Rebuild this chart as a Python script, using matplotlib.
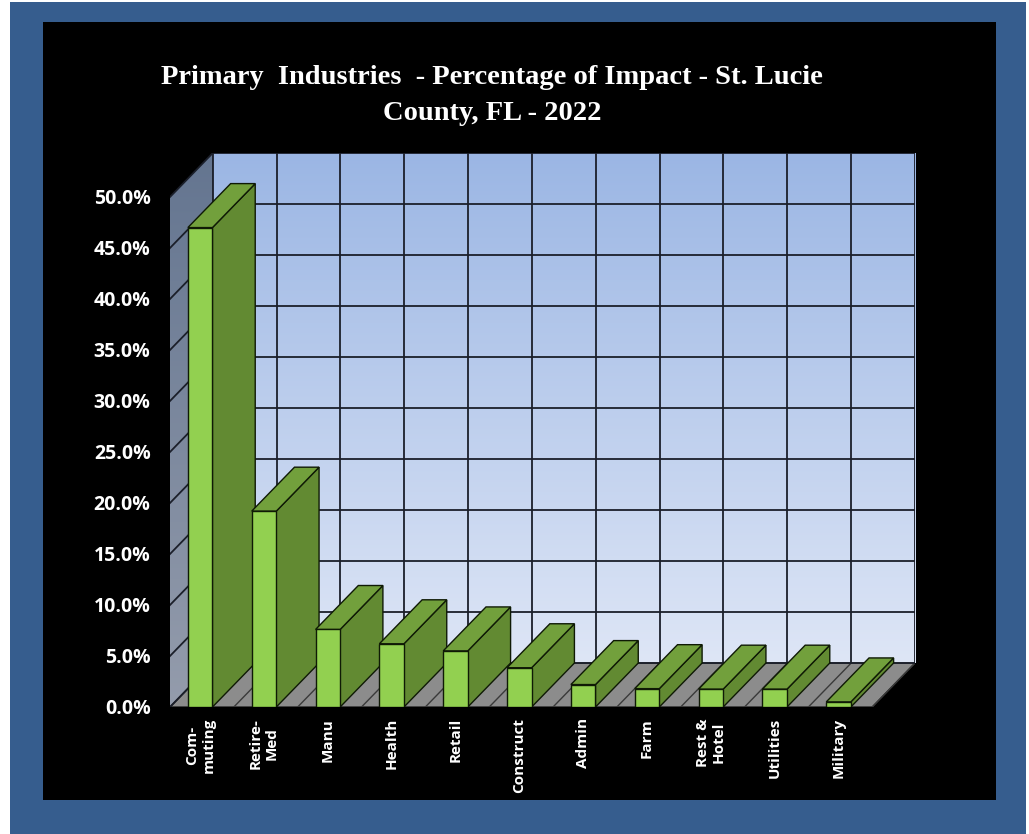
import numpy as np
import matplotlib
matplotlib.use("Agg")
import matplotlib.pyplot as plt
from matplotlib.patches import Polygon, Rectangle

# data (percent of impact)
categories = ["Com-\nmuting", "Retire-\nMed", "Manu", "Health", "Retail", "Construct",
              "Admin", "Farm", "Rest &\nHotel", "Utilities", "Military"]
values = [47.0, 19.2, 7.6, 6.2, 5.5, 3.85, 2.2, 1.8, 1.75, 1.75, 0.5]
y_ticks = [0, 5, 10, 15, 20, 25, 30, 35, 40, 45, 50]
title_line1 = "Primary  Industries  - Percentage of Impact - St. Lucie"
title_line2 = "County, FL - 2022"

W, H = 1029, 834
fig = plt.figure(figsize=(W / 100, H / 100), dpi=100, facecolor="white")


def fig_rect(x0, y0, x1, y1, **kw):
    # pixel box (top-left origin) -> figure rectangle
    r = Rectangle((x0 / W, 1 - y1 / H), (x1 - x0) / W, (y1 - y0) / H,
                  transform=fig.transFigure, **kw)
    fig.add_artist(r)
    return r


# blue frame and black panel
fig_rect(10, 2, 1026, 834, facecolor="#365d8e", edgecolor="none", zorder=0)
fig_rect(43, 22, 996, 800, facecolor="black", edgecolor="none", zorder=0)

# title
fig.text(492 / W, 1 - 78 / H, title_line1, ha="center", va="center", color="white",
         fontsize=20.5, fontweight="bold", family="Liberation Serif", zorder=5)
fig.text(492 / W, 1 - 113 / H, title_line2, ha="center", va="center", color="white",
         fontsize=20.5, fontweight="bold", family="Liberation Serif", zorder=5)

# 3D-looking plot area
n = len(categories)
dx, dy = 0.67, 4.31      # depth offset in data units
ymax = 50

ax = fig.add_axes([170 / W, 1 - 707 / H, (915 - 170) / W, (707 - 153) / H])
ax.set_zorder(2)
ax.patch.set_visible(False)
for s in ax.spines.values():
    s.set_visible(False)

grid_kw = dict(color="#1b1f2a", lw=1.3, zorder=2)

# back wall gradient
top_c = np.array([155, 182, 228]) / 255
bot_c = np.array([222, 230, 246]) / 255
t = np.linspace(0, 1, 256)[:, None, None]
grad = top_c * (1 - t) + bot_c * t
ax.imshow(grad, extent=[dx, dx + n, dy, dy + ymax], aspect="auto", zorder=0,
          interpolation="bilinear")

# side wall gradient, clipped to its parallelogram
side = Polygon([(0, 0), (dx, dy), (dx, dy + ymax), (0, ymax)], closed=True,
               facecolor="none", edgecolor="none")
ax.add_patch(side)
s_top = np.array([100, 117, 144]) / 255
s_bot = np.array([148, 156, 172]) / 255
sgrad = s_top * (1 - t) + s_bot * t
im = ax.imshow(sgrad, extent=[0, dx, 0, dy + ymax], aspect="auto", zorder=0,
               interpolation="bilinear")
im.set_clip_path(side)

# floor
ax.add_patch(Polygon([(0, 0), (n, 0), (n + dx, dy), (dx, dy)], closed=True,
                     facecolor="#8c8c8c", edgecolor="#222222", lw=1, zorder=1))
for k in range(n + 1):
    ax.plot([k, k + dx], [0, dy], color="#3a3a3a", lw=1, zorder=1)

# grid on back wall and side wall
for v in y_ticks:
    ax.plot([dx, dx + n], [v + dy, v + dy], **grid_kw)
    ax.plot([0, dx], [v, v + dy], **grid_kw)
for k in range(n + 1):
    ax.plot([dx + k, dx + k], [dy, dy + ymax], **grid_kw)

# bars, left to right so nearer bars overlap the previous side faces
x0_off, bw = 0.28, 0.385
for i, v in enumerate(values):
    x0 = i + x0_off
    x1 = x0 + bw
    z = 3 + i
    side_face = [(x1, 0), (x1 + dx, dy), (x1 + dx, v + dy), (x1, v)]
    top_face = [(x0, v), (x1, v), (x1 + dx, v + dy), (x0 + dx, v + dy)]
    front = [(x0, 0), (x1, 0), (x1, v), (x0, v)]
    ax.add_patch(Polygon(side_face, closed=True, facecolor="#628a32",
                         edgecolor="#0f1a05", lw=1, zorder=z))
    ax.add_patch(Polygon(top_face, closed=True, facecolor="#72a03c",
                         edgecolor="#0f1a05", lw=1, zorder=z))
    ax.add_patch(Polygon(front, closed=True, facecolor="#92d050",
                         edgecolor="#0f1a05", lw=1, zorder=z))

ax.set_xlim(0, n + dx)
ax.set_ylim(0, ymax + dy)

ax.set_yticks(y_ticks)
ax.set_yticklabels([f"{v:.1f}%" for v in y_ticks], color="white",
                   fontweight="bold", fontsize=14, family="Open Sans")
ax.set_xticks([i + x0_off + bw / 2 for i in range(n)])
ax.set_xticklabels(categories, rotation=90, color="white", fontweight="bold",
                   fontsize=11, family="Open Sans", va="top", ha="center",
                   multialignment="center")
ax.tick_params(axis="y", length=0, pad=14)
ax.tick_params(axis="x", length=0, pad=8)

fig.savefig("out.png", dpi=100, facecolor="white")
